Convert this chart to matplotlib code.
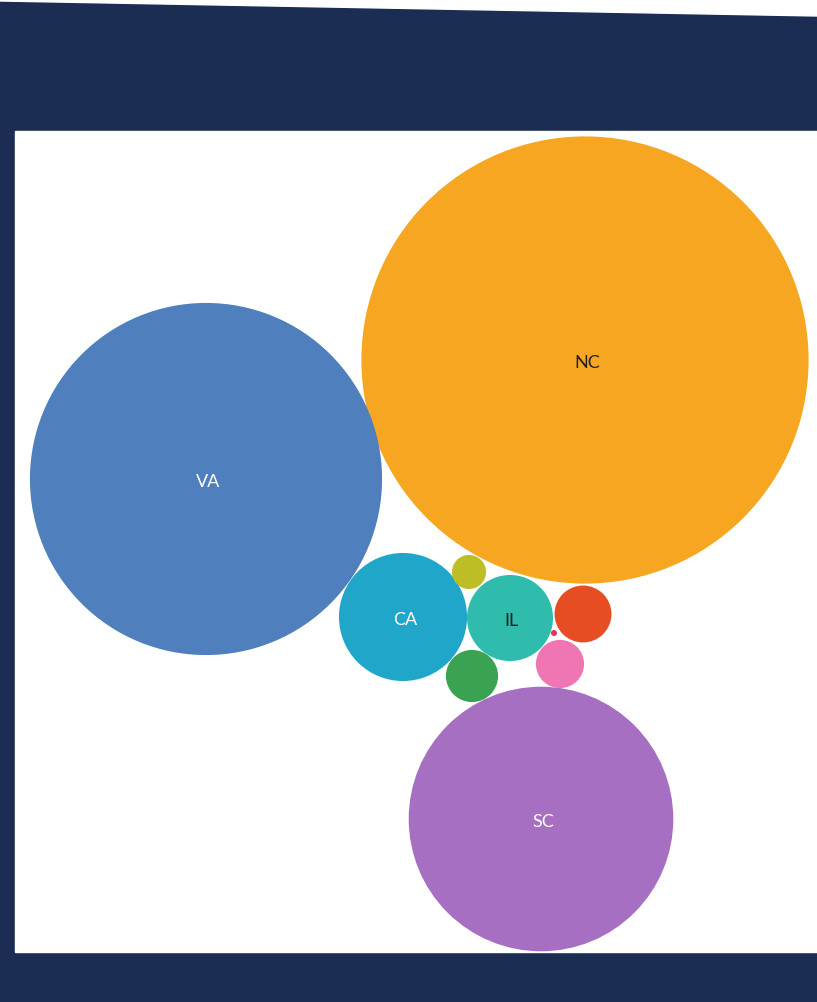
import numpy as np
import matplotlib.pyplot as plt
from matplotlib.patches import Circle, Rectangle, Polygon

# bubble data (value -> circle area)
states = ['NC', 'VA', 'SC', 'CA', 'IL', 'S6', 'S7', 'S8', 'S9', 'S10']
values = [500, 310, 175, 41, 18.5, 8.1, 6.8, 5.8, 2.9, 0.09]
labels = ['NC', 'VA', 'SC', 'CA', 'IL', '', '', '', '', '']
colors = ['#f6a620', '#4f7fbd', '#a66fc2', '#1fa6c9', '#30bcad',
          '#e64d22', '#3aa352', '#ef76b3', '#bdbd25', '#e8335a']
text_colors = ['#222222', 'white', 'white', 'white', '#222222',
               'white', 'white', 'white', 'white', 'white']

# packed layout (pixel positions of centres)
layout_x = [585, 206, 541, 403, 510, 583, 472, 560, 469, 554]
layout_y = [361, 480, 820, 618, 619, 615, 677, 665, 573, 634]

navy = '#1b2d52'

fig = plt.figure(figsize=(8.17, 10.03), dpi=100)
ax = fig.add_axes([0, 0, 1, 1])
ax.set_xlim(0, 817)
ax.set_ylim(1003, 0)
ax.set_aspect('equal')
ax.axis('off')

# frame
ax.add_patch(Rectangle((0, 0), 817, 1003, color=navy, zorder=0))
ax.add_patch(Polygon([(0, 0), (817, 0), (817, 17), (0, 2)], closed=True,
                     color='white', zorder=1))
ax.add_patch(Rectangle((15, 132), 820, 821, color='white', zorder=1))

for i in range(len(states)):
    r = 10 * np.sqrt(values[i])
    ax.add_patch(Circle((layout_x[i], layout_y[i]), r, color=colors[i],
                        zorder=2, linewidth=0))
    if labels[i]:
        ax.text(layout_x[i] + 2, layout_y[i] + 2, labels[i], ha='center', va='center',
                color=text_colors[i], fontsize=13, family='Lato', zorder=3)

fig.savefig('out.png', dpi=100)
